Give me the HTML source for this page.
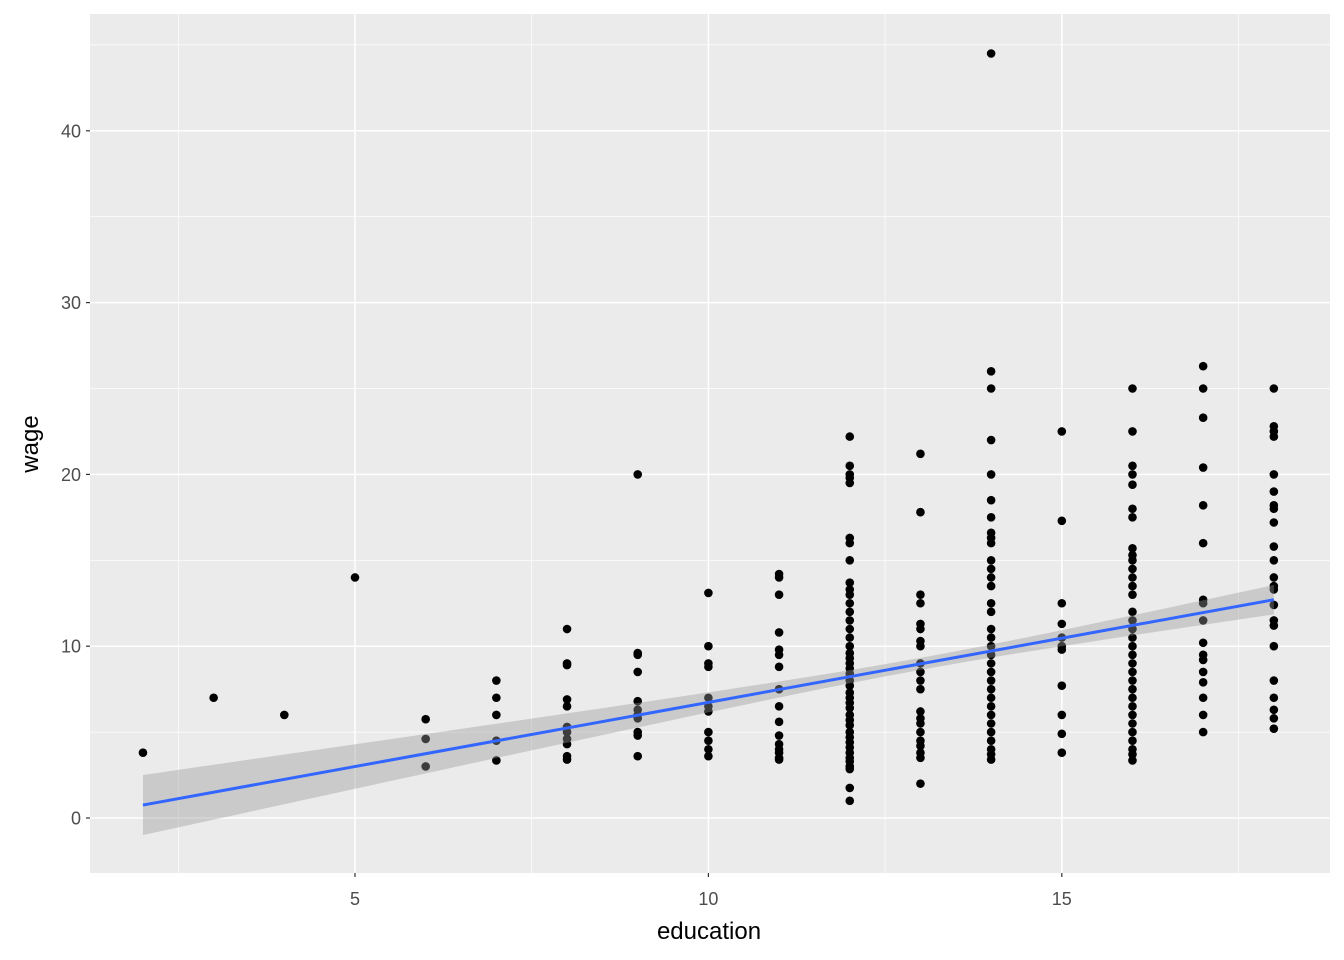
<!DOCTYPE html>
<html><head><meta charset="utf-8"><style>
body{margin:0;background:#fff;}
svg{display:block;font-family:"Liberation Sans",sans-serif;}
</style></head><body>
<svg id="chart" width="1344" height="960"></svg>
<script>
const educationCols=[2,3,4,5,6,7,8,9,10,11,12,13,14,15,16,17,18];
const wageCols=[
[3.8],[7.0],[6.0],[14],[5.75,4.6,3.0],[8,7,6,4.5,3.35],
[11,9,8.9,6.9,6.5,5.3,5,4.6,4.3,3.6,3.4],
[20,9.6,9.5,8.5,6.8,6.3,6,5.8,5,4.8,3.6],
[13.1,10,9,8.8,7,6.5,6.2,5,4.5,4,3.6],
[14.2,14,13,10.8,9.8,9.5,8.8,7.5,6.5,5.6,4.8,4.3,4,3.8,3.5,3.4],
[22.2,20.5,20,19.8,19.5,16.3,16,15,13.7,13.3,13,12.5,12,11.5,11,10.5,10,9.6,9.3,9,8.7,8.4,8,7.7,7.3,7,6.7,6.4,6,5.7,5.4,5,4.7,4.4,4.1,3.8,3.5,3.3,3,2.85,1.75,1.0],
[21.2,17.8,13,12.5,11.3,11,10.3,10,9,8.5,8,7.5,6.2,5.8,5.5,5,4.5,4.2,3.8,3.5,2],
[44.5,26,25,22,20,18.5,17.5,16.6,16.3,16,15,14.5,14,13.5,12.5,12,11,10.5,10,9.5,9,8.5,8,7.5,7,6.5,6,5.5,5,4.5,4,3.7,3.4],
[22.5,17.3,12.5,11.3,10.5,10,9.8,7.7,6,4.9,3.8],
[25,22.5,20.5,20,19.4,18,17.5,15.7,15.3,15,14.5,14,13.5,13,12,11.5,11,10.5,10,9.5,9,8.5,8,7.5,7,6.5,6,5.5,5,4.5,4,3.7,3.35],
[26.3,25,23.3,20.4,18.2,16,12.7,12.5,11.5,10.2,9.5,9.2,8.5,7.9,7,6,5],
[25,22.8,22.5,22.2,20,19,18.2,18,17.2,15.8,15,14,13.5,13.3,12.4,11.5,11.2,10,8,7,6.3,5.8,5.2]
];
const xTicks=[5,10,15];
const xMinor=[2.5,7.5,12.5,17.5];
const yTicks=[0,10,20,30,40];
const yMinor=[5,15,25,35,45];
const fitCoef=[-0.74,0.747];
const seCoef=[0.1225,0.0243,13];

const NS="http://www.w3.org/2000/svg";
const svg=document.getElementById('chart');
const P={l:90,r:1330,t:14,b:873};
const sx=v=>355+(v-5)*70.68;
const sy=v=>818-v*17.18;
function mk(t,a,parent){const e=document.createElementNS(NS,t);for(const k in a)e.setAttribute(k,a[k]);(parent||svg).appendChild(e);return e;}
const panel=mk('rect',{x:P.l,y:P.t,width:P.r-P.l,height:P.b-P.t,fill:'#ebebeb'});


xMinor.forEach(v=>{const e=mk('line',{x1:sx(v),x2:sx(v),y1:P.t,y2:P.b,stroke:'#fff','stroke-width':0.7});});
yMinor.forEach(v=>{const e=mk('line',{x1:P.l,x2:P.r,y1:sy(v),y2:sy(v),stroke:'#fff','stroke-width':0.7});});
xTicks.forEach(v=>{const e=mk('line',{x1:sx(v),x2:sx(v),y1:P.t,y2:P.b,stroke:'#fff','stroke-width':1.5});
 const t=mk('line',{x1:sx(v),x2:sx(v),y1:P.b,y2:P.b+4,stroke:'#333','stroke-width':1.2});
 const l=mk('text',{x:sx(v),y:905,'text-anchor':'middle','font-size':18,fill:'#4d4d4d'});l.textContent=v;});
yTicks.forEach(v=>{const e=mk('line',{x1:P.l,x2:P.r,y1:sy(v),y2:sy(v),stroke:'#fff','stroke-width':1.5});
 const t=mk('line',{x1:P.l-4,x2:P.l,y1:sy(v),y2:sy(v),stroke:'#333','stroke-width':1.2});
 const l=mk('text',{x:P.l-9,y:sy(v)+6.5,'text-anchor':'end','font-size':18,fill:'#4d4d4d'});l.textContent=v;});
const g=mk('g',{});


educationCols.forEach((x,i)=>wageCols[i].forEach(w=>{const c=mk('circle',{cx:sx(x),cy:sy(w),r:4.3,fill:'#000'},g);}));
const x0=educationCols[0],x1=educationCols[educationCols.length-1];
const fit=x=>fitCoef[0]+fitCoef[1]*x;
const se=x=>1.0*Math.sqrt(seCoef[0]+seCoef[1]*(x-seCoef[2])**2);
let up=[],lo=[];
for(let k=0;k<=80;k++){const x=x0+(x1-x0)*k/80;up.push(sx(x)+','+sy(fit(x)+se(x)));lo.unshift(sx(x)+','+sy(fit(x)-se(x)));}
const rib=mk('polygon',{points:up.concat(lo).join(' '),fill:'#999','fill-opacity':0.4});


const ln=mk('line',{x1:sx(x0),y1:sy(fit(x0)),x2:sx(x1),y2:sy(fit(x1)),stroke:'#3366FF','stroke-width':3});


const xt=mk('text',{x:709,y:939,'text-anchor':'middle','font-size':24,fill:'#000'});xt.textContent='education';


const yt=mk('text',{x:0,y:0,'text-anchor':'middle','font-size':24,fill:'#000',transform:'translate(38,444) rotate(-90)'});yt.textContent='wage';


</script>
</body></html>
